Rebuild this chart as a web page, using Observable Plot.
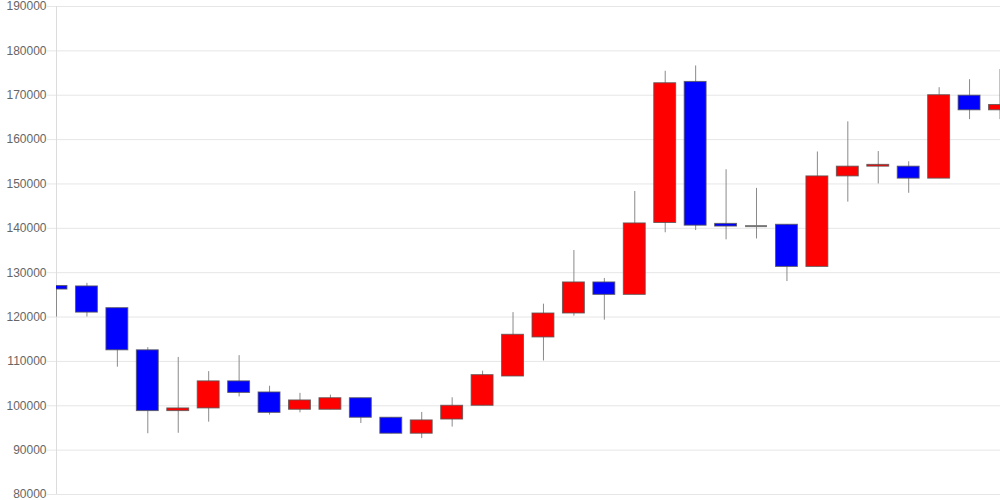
<!DOCTYPE html>
<html>
<head>
<meta charset="utf-8">
<script src="https://cdn.jsdelivr.net/npm/d3@7"></script>
<script src="https://cdn.jsdelivr.net/npm/@observablehq/plot@0.6"></script>
<style>
  html, body { margin: 0; padding: 0; background: #fff; }
  #chart { width: 1000px; height: 500px; }
</style>
</head>
<body>
<div id="chart"></div>
<script>
const openV  = [127000,126900,122000,112500, 98800, 99400,105500,103000, 99100, 99100,101700, 97300, 93700, 96900,100000,106600,115400,120800,127800,125000,141200,173000,141000,140500,140800,131300,151700,153900,153900,151200,169900,166600];
const highV  = [127000,127600,122000,113100,110900,107700,111300,104400,102800,102400,101700, 97300, 98500,101800,107800,121000,122900,135000,128700,148300,175400,176600,153200,149000,140800,157200,164000,157300,155000,171700,173500,175800];
const lowV   = [120000,120000,108700, 93700, 93800, 96300,102000, 97900, 98400, 99100, 96000, 93700, 92600, 95200,100000,106600,110100,120200,119300,125000,139000,139500,137400,137600,128000,131300,145900,150000,147900,151200,164500,164500];
const closeV = [126200,121000,112500, 98800, 99400,105500,102900, 98400,101200,101700, 97300, 93700, 96700,100000,106900,116000,120800,127800,125000,141100,172700,140600,140400,140500,131300,151700,153900,154300,151200,170000,166600,167800];
const yTicks = [80000,90000,100000,110000,120000,130000,140000,150000,160000,170000,180000,190000];

const data = openV.map((o, i) => ({i, open: o, high: highV[i], low: lowV[i], close: closeV[i]}));
const half = 0.36;

const chart = Plot.plot({
  width: 1000,
  height: 500,
  marginLeft: 56,
  marginRight: 0,
  marginTop: 6,
  marginBottom: 6,
  style: {fontFamily: "'Liberation Sans', Arial, sans-serif", fontSize: "12px", background: "#fff"},
  x: {type: "linear", domain: [0, openV.length - 1 + 0.0165], axis: null},
  y: {domain: [80000, 190000], axis: null},
  marks: [
    Plot.gridY(yTicks, {stroke: "#e6e6e6", strokeOpacity: 1}),
    Plot.axisY(yTicks, {tickSize: 9, tickPadding: 1, stroke: "#e6e6e6", fill: "#666", tickFormat: d => String(d), fontSize: 12}),
    Plot.ruleX([0], {stroke: "#dcdcdc"}),
    Plot.ruleX(data, {x: "i", y1: "low", y2: "high", stroke: "#8a8a8a", strokeWidth: 1}),
    Plot.rect(data.filter(d => d.open !== d.close), {
      x1: d => d.i - half, x2: d => d.i + half,
      y1: "open", y2: "close",
      fill: d => d.close > d.open ? "#ff0000" : "#0000ff",
      stroke: "#555", strokeWidth: 1, strokeOpacity: 0.8,
      clip: true
    }),
    Plot.ruleY(data.filter(d => d.open === d.close), {
      x1: d => d.i - half, x2: d => d.i + half, y: "open",
      stroke: "#777", strokeWidth: 2, clip: true
    })
  ]
});
document.getElementById("chart").appendChild(chart);
</script>
</body>
</html>
